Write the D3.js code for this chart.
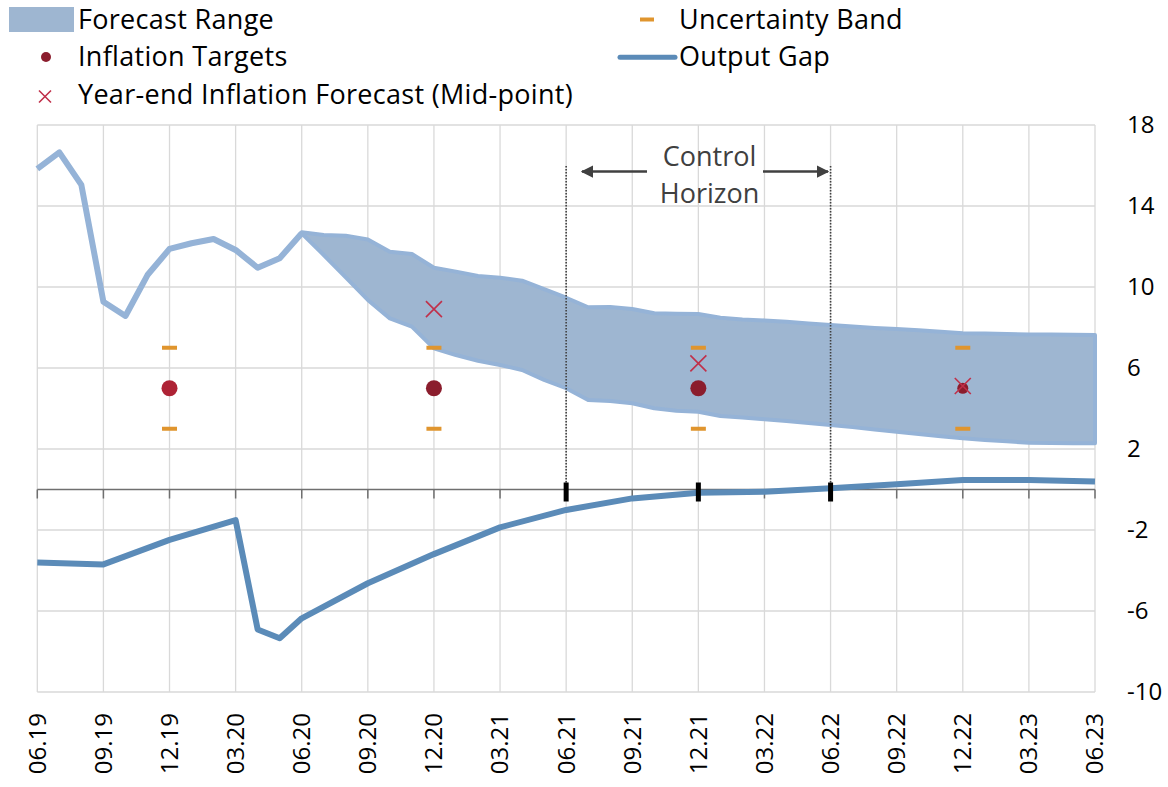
<!DOCTYPE html>
<html>
<head>
<meta charset="utf-8">
<script src="https://cdn.jsdelivr.net/npm/d3@7"></script>
<style>
  body { margin: 0; background: #fff; }
  svg { display: block; font-family: "Open Sans", sans-serif; }
</style>
</head>
<body>
<svg id="chart" width="1168" height="787"></svg>
<script>
// quarterly tick labels, month 0 = 06.19, step 3 months
const quarterLabels = ["06.19", "09.19", "12.19", "03.20", "06.20", "09.20", "12.20", "03.21",
  "06.21", "09.21", "12.21", "03.22", "06.22", "09.22", "12.22", "03.23", "06.23"];
const yTicks = [18, 14, 10, 6, 2, -2, -6, -10];

// realised inflation, monthly from 06.19 (month 0) to 06.20 (month 12)
const inflation = [15.83, 16.65, 15.04, 9.27, 8.57, 10.59, 11.88, 12.16, 12.37, 11.83, 10.95, 11.42, 12.65];

// forecast range, monthly from 06.20 (month 12) to 06.23 (month 48)
const forecastUpper = [12.70, 12.57, 12.53, 12.35, 11.74, 11.63, 10.95, 10.76, 10.54, 10.46, 10.31, 9.89,
  9.47, 9.00, 9.01, 8.91, 8.70, 8.68, 8.67, 8.48, 8.40, 8.35, 8.28, 8.20, 8.12, 8.05, 7.98, 7.92,
  7.86, 7.79, 7.72, 7.70, 7.68, 7.66, 7.65, 7.64, 7.63];
const forecastLower = [12.65, 11.58, 10.48, 9.36, 8.45, 8.04, 6.97, 6.64, 6.36, 6.15, 5.90, 5.41,
  5.00, 4.42, 4.37, 4.26, 4.01, 3.89, 3.84, 3.63, 3.55, 3.47, 3.38, 3.28, 3.19, 3.08, 2.96, 2.85,
  2.74, 2.63, 2.53, 2.45, 2.38, 2.31, 2.30, 2.29, 2.28];

// output gap [month, value]
const outputGap = [[0, -3.61], [3, -3.70], [6, -2.49], [9, -1.51], [10, -6.91], [11, -7.35], [12, -6.36],
  [15, -4.63], [18, -3.19], [21, -1.87], [24, -1.01], [27, -0.44], [30, -0.16], [33, -0.11],
  [36, 0.06], [39, 0.26], [42, 0.47], [45, 0.47], [48, 0.39]];

// year-end targets and bands
const targetMonths = [6, 18, 30, 42];
const targetValue = 5;
const bandUpper = 7, bandLower = 3;
const yearEndForecast = [[18, 8.91], [30, 6.23], [42, 5.11]];
const controlHorizon = [24, 36];
const horizonMarks = [24, 30, 36];

const svg = d3.select("#chart");
const plotL = 37.3, plotR = 1095, plotT = 125, plotB = 692;

const x = d3.scaleLinear().domain([0, 48]).range([plotL, plotR]);
const y = d3.scaleLinear().domain([-10, 18]).range([plotB, plotT]);

const grid = svg.append("g").attr("stroke", "#d9d9d9").attr("stroke-width", 1.3);
// horizontal grid
grid.selectAll(".hg").data(yTicks).join("line")
  .attr("x1", plotL).attr("x2", plotR)
  .attr("y1", d => y(d)).attr("y2", d => y(d));
// vertical grid
grid.selectAll(".vg").data(quarterLabels).join("line")
  .attr("x1", (d, i) => x(i * 3)).attr("x2", (d, i) => x(i * 3))
  .attr("y1", plotT).attr("y2", plotB);

// forecast range
const rangeData = forecastUpper.map((u, i) => ({ m: 12 + i, u: u, l: forecastLower[i] }));
const area = d3.area().x(d => x(d.m)).y0(d => y(d.l)).y1(d => y(d.u));
svg.append("path").datum(rangeData)
  .attr("d", area)
  .attr("fill", "#9eb6d1")
  .attr("stroke", "#95b3d7")
  .attr("stroke-width", 4)
  .attr("stroke-linejoin", "round");

// realised inflation
const line = d3.line().x(d => x(d[0])).y(d => y(d[1]));
svg.append("path").datum(inflation.map((v, i) => [i, v]))
  .attr("d", line)
  .attr("fill", "none")
  .attr("stroke", "#95b3d7")
  .attr("stroke-width", 6)
  .attr("stroke-linejoin", "round");

// zero axis with ticks
svg.append("line")
  .attr("x1", plotL).attr("x2", plotR)
  .attr("y1", y(0)).attr("y2", y(0))
  .attr("stroke", "#6f6f6f").attr("stroke-width", 1.5);
svg.selectAll(".zt").data(quarterLabels).join("line")
  .attr("x1", (d, i) => x(i * 3)).attr("x2", (d, i) => x(i * 3))
  .attr("y1", y(0)).attr("y2", y(0) + 9)
  .attr("stroke", "#6f6f6f").attr("stroke-width", 1.5);

// output gap
svg.append("path").datum(outputGap)
  .attr("d", line)
  .attr("fill", "none")
  .attr("stroke", "#5b8bb8")
  .attr("stroke-width", 6)
  .attr("stroke-linejoin", "round");

// control horizon lines
svg.selectAll(".ch").data(controlHorizon).join("line")
  .attr("x1", d => x(d)).attr("x2", d => x(d))
  .attr("y1", 166).attr("y2", y(0))
  .attr("stroke", "#404040").attr("stroke-width", 1.6)
  .attr("stroke-dasharray", "1.5,1.5");
svg.selectAll(".hm").data(horizonMarks).join("rect")
  .attr("x", d => x(d) - 2.5).attr("width", 5)
  .attr("y", y(0) - 7).attr("height", 19)
  .attr("fill", "#000");

// arrows
const defs = svg.append("defs");
defs.append("marker").attr("id", "arr")
  .attr("viewBox", "0 0 10 10").attr("refX", 9).attr("refY", 5)
  .attr("markerWidth", 5).attr("markerHeight", 5).attr("orient", "auto")
  .append("path").attr("d", "M0,0 L10,5 L0,10 Z").attr("fill", "#404040");
svg.append("line").attr("x1", 647).attr("x2", 582).attr("y1", 171.5).attr("y2", 171.5)
  .attr("stroke", "#404040").attr("stroke-width", 2.5).attr("marker-end", "url(#arr)");
svg.append("line").attr("x1", 763).attr("x2", 828).attr("y1", 171.5).attr("y2", 171.5)
  .attr("stroke", "#404040").attr("stroke-width", 2.5).attr("marker-end", "url(#arr)");
svg.append("text").attr("x", 709.5).attr("y", 166).attr("text-anchor", "middle")
  .attr("font-size", 27).attr("fill", "#404040").text("Control");
svg.append("text").attr("x", 709.5).attr("y", 203).attr("text-anchor", "middle")
  .attr("font-size", 27).attr("fill", "#404040").text("Horizon");

// uncertainty band dashes
[bandUpper, bandLower].forEach(b => {
  svg.selectAll(null).data(targetMonths).join("rect")
    .attr("x", d => x(d) - 7.5).attr("width", 15)
    .attr("y", y(b) - 2).attr("height", 4)
    .attr("fill", "#e0952e");
});

// inflation targets
svg.selectAll(".tg").data(targetMonths).join("circle")
  .attr("cx", d => x(d)).attr("cy", y(targetValue))
  .attr("r", (d, i) => i === targetMonths.length - 1 ? 5.5 : 8)
  .attr("fill", (d, i) => i === 0 ? "#ae2335" : "#8b1d2d");

// year-end forecast crosses
const s = 8;
svg.selectAll(".yf").data(yearEndForecast).join("path")
  .attr("d", d => `M${x(d[0]) - s},${y(d[1]) - s}L${x(d[0]) + s},${y(d[1]) + s}M${x(d[0]) - s},${y(d[1]) + s}L${x(d[0]) + s},${y(d[1]) - s}`)
  .attr("stroke", "#c0304a").attr("stroke-width", 1.6).attr("fill", "none");

// y axis labels (right)
svg.selectAll(".yl").data(yTicks).join("text")
  .attr("x", 1127).attr("y", d => y(d)).attr("dy", "0.35em")
  .attr("font-size", 24).attr("fill", "#000")
  .text(d => d);

// x axis labels (rotated)
svg.selectAll(".xl").data(quarterLabels).join("text")
  .attr("transform", (d, i) => `translate(${x(i * 3)},713) rotate(-90)`)
  .attr("text-anchor", "end").attr("dy", "0.35em")
  .attr("font-size", 24).attr("fill", "#000")
  .text(d => d);

// legend
const lg = svg.append("g").attr("font-size", 27).attr("letter-spacing", 0.3).attr("fill", "#000");
lg.append("rect").attr("x", 9).attr("y", 7).attr("width", 65).attr("height", 25).attr("fill", "#9eb6d1");
lg.append("text").attr("x", 78).attr("y", 29).text("Forecast Range");
lg.append("circle").attr("cx", 46).attr("cy", 57).attr("r", 5).attr("fill", "#8b1d2d");
lg.append("text").attr("x", 78).attr("y", 66).text("Inflation Targets");
lg.append("path").attr("d", "M39,90.5L51,102.5M39,102.5L51,90.5")
  .attr("stroke", "#c0304a").attr("stroke-width", 1.6);
lg.append("text").attr("x", 78).attr("y", 103.5).text("Year-end Inflation Forecast (Mid-point)");
lg.append("rect").attr("x", 640).attr("y", 17.5).attr("width", 14).attr("height", 4).attr("fill", "#e0952e");
lg.append("text").attr("x", 679).attr("y", 29).text("Uncertainty Band");
lg.append("line").attr("x1", 620).attr("x2", 675).attr("y1", 57.3).attr("y2", 57.3)
  .attr("stroke", "#5b8bb8").attr("stroke-width", 5).attr("stroke-linecap", "round");
lg.append("text").attr("x", 679).attr("y", 66).text("Output Gap");
</script>
</body>
</html>
